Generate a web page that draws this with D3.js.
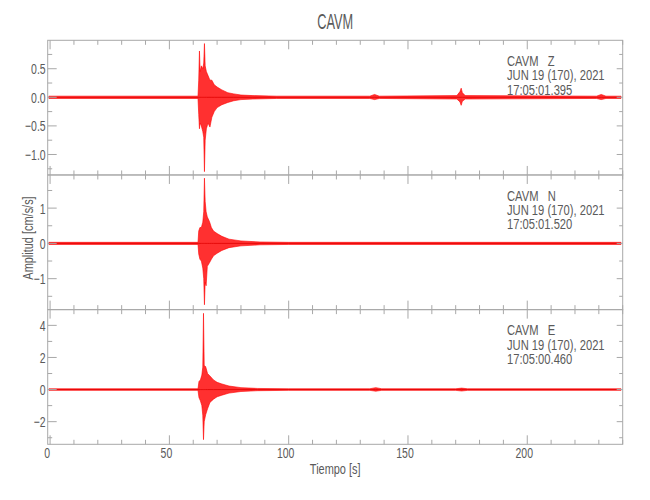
<!DOCTYPE html>
<html><head><meta charset="utf-8">
<script src="https://cdn.jsdelivr.net/npm/d3@7"></script>
<style>
html,body{margin:0;padding:0;background:#fff;}
text{font-family:"Liberation Sans",Arial,sans-serif;fill:#5a5a5a;}
</style></head>
<body><svg id="c" width="650" height="500"></svg>
<script>
// ---- data ----
const title = "CAVM";
const xLabel = "Tiempo [s]";
const yLabel = "Amplitud [cm/s/s]";
const xDomain = [-1, 240];
const xMajorTicks = [0, 50, 100, 150, 200];
const xMinorStep = 10;

const components = ["Z", "N", "E"];
const startTimes = ["17:05:01.395", "17:05:01.520", "17:05:00.460"];
const dateLabel = "JUN 19 (170), 2021";

// envelope of each trace: time [s], upper and lower amplitude [cm/s/s]
const zTime = [-0.5, 62.0, 62.3, 62.6, 62.9, 63.4, 64.0, 64.4, 64.7, 65.0, 65.5, 66.2, 67.0, 67.8, 68.8, 70.0, 72.0, 74.5, 77.0, 80.0, 85.0, 95.0, 134.0, 136.0, 138.0, 170.5, 171.8, 172.3, 172.8, 174.0, 229.0, 231.0, 233.0, 239.3];
const zHigh = [0.02, 0.02, 0.30, 0.81, 0.45, 0.55, 0.50, 0.60, 0.94, 0.55, 0.45, 0.38, 0.30, 0.30, 0.22, 0.18, 0.13, 0.08, 0.06, 0.04, 0.03, 0.02, 0.02, 0.05, 0.02, 0.03, 0.10, 0.16, 0.08, 0.03, 0.02, 0.05, 0.02, 0.02];
const zLow  = [-0.02, -0.02, -0.30, -0.55, -0.45, -0.50, -0.60, -0.70, -1.30, -0.75, -0.55, -0.45, -0.52, -0.35, -0.25, -0.18, -0.13, -0.09, -0.06, -0.04, -0.03, -0.02, -0.02, -0.04, -0.02, -0.03, -0.08, -0.14, -0.07, -0.03, -0.02, -0.04, -0.02, -0.02];

const nTime = [-0.5, 62.0, 62.3, 62.8, 63.4, 64.0, 64.4, 64.7, 65.0, 65.4, 65.9, 66.8, 67.6, 68.5, 70.0, 72.0, 75.0, 80.0, 88.0, 100.0, 239.3];
const nHigh = [0.03, 0.03, 0.35, 0.45, 0.45, 0.60, 0.90, 1.85, 1.19, 0.90, 0.75, 0.62, 0.45, 0.35, 0.28, 0.20, 0.12, 0.07, 0.04, 0.03, 0.03];
const nLow  = [-0.03, -0.03, -0.30, -0.45, -0.50, -0.70, -1.00, -1.74, -1.10, -1.20, -0.65, -0.55, -0.45, -0.35, -0.28, -0.20, -0.12, -0.07, -0.04, -0.03, -0.03];

const eTime = [-0.5, 62.0, 62.4, 63.0, 63.6, 64.0, 64.3, 64.6, 65.2, 66.0, 67.0, 68.5, 70.0, 72.0, 75.0, 80.0, 87.0, 100.0, 134.0, 136.5, 139.0, 170.0, 172.5, 175.0, 239.3];
const eHigh = [0.05, 0.05, 0.50, 0.60, 0.90, 1.40, 4.75, 1.50, 1.43, 1.00, 0.85, 0.60, 0.45, 0.35, 0.22, 0.12, 0.07, 0.05, 0.05, 0.12, 0.05, 0.05, 0.09, 0.05, 0.05];
const eLow  = [-0.05, -0.05, -0.50, -0.70, -1.00, -1.60, -3.12, -2.00, -1.57, -1.20, -0.80, -0.60, -0.45, -0.35, -0.22, -0.12, -0.07, -0.05, -0.05, -0.10, -0.05, -0.05, -0.09, -0.05, -0.05];

const yDomains = [[-1.358, 0.997], [-1.878, 1.94], [-3.41, 4.98]];
const yMajorTicks = [[-1.0, -0.5, 0.0, 0.5], [-1, 0, 1], [-2, 0, 2, 4]];
const yMinorSteps = [0.25, 0.5, 1];
const yTickFormats = [".1f", "d", "d"];

// ---- layout ----
const svg = d3.select("#c");
const plotLeft = 47.7, plotRight = 622.7, plotTop = 40.3, plotBottom = 444.3;
const panelH = (plotBottom - plotTop) / 3;
const frameColor = "#a8a8a8";
const SX = 0.7; // horizontal squeeze imitating the narrow plotting font

function label(parent, px, py, str, size, anchor, sx, rot) {
  return parent.append("text")
    .attr("transform", `translate(${px},${py})${rot ? ` rotate(${rot})` : ""} scale(${sx || SX},1)`)
    .attr("text-anchor", anchor || "start").attr("font-size", size)
    .style("white-space", "pre").text(str);
}

const x = d3.scaleLinear().domain(xDomain).range([plotLeft, plotRight]);
const xMinorTicks = d3.range(0, xDomain[1] + 0.001, xMinorStep);

const traces = [
  {t: zTime, hi: zHigh, lo: zLow},
  {t: nTime, hi: nHigh, lo: nLow},
  {t: eTime, hi: eHigh, lo: eLow}
];

const fmtNum = f => v => d3.format(f)(v).replace("-", "\u2212");

traces.forEach((tr, i) => {
  const y0 = plotTop + i * panelH, y1 = y0 + panelH;
  const y = d3.scaleLinear().domain(yDomains[i]).range([y1, y0]);
  const g = svg.append("g");

  const cid = "clip" + i;
  svg.append("clipPath").attr("id", cid).append("rect")
    .attr("x", plotLeft).attr("y", y0).attr("width", plotRight - plotLeft).attr("height", panelH);

  const pts = tr.t.map((t, k) => ({t, hi: tr.hi[k], lo: tr.lo[k]}));
  const area = d3.area().x(d => x(d.t)).y0(d => y(d.lo)).y1(d => y(d.hi)).curve(d3.curveLinear);
  const gt = g.append("g").attr("clip-path", `url(#${cid})`);
  gt.append("path").datum(pts).attr("d", area)
    .attr("fill", "#ff1a1a").attr("fill-opacity", 0.9)
    .attr("stroke", "#ff0000").attr("stroke-width", 0.6).attr("stroke-linejoin", "miter");
  gt.append("path").datum(pts)
    .attr("d", d3.line().x(d => x(d.t)).y(() => y(0)))
    .attr("stroke", "#e00000").attr("stroke-width", 0.8).attr("fill", "none");

  g.append("rect").attr("x", plotLeft).attr("y", y0).attr("width", plotRight - plotLeft).attr("height", panelH)
    .attr("fill", "none").attr("stroke", frameColor).attr("stroke-width", 1);

  const xt = g.append("g").attr("stroke", frameColor).attr("stroke-width", 1);
  xMinorTicks.forEach(v => {
    const L = xMajorTicks.includes(v) ? 9 : 4.5;
    const px = x(v);
    xt.append("line").attr("x1", px).attr("x2", px).attr("y1", y0).attr("y2", y0 + L);
    xt.append("line").attr("x1", px).attr("x2", px).attr("y1", y1).attr("y2", y1 - L);
  });

  const yMinor = d3.range(Math.ceil(yDomains[i][0] / yMinorSteps[i]) * yMinorSteps[i], yDomains[i][1], yMinorSteps[i]);
  yMinor.forEach(v => {
    const isMajor = yMajorTicks[i].some(m => Math.abs(m - v) < 1e-6);
    const py = y(v);
    xt.append("line").attr("x1", plotLeft).attr("x2", plotLeft + (isMajor ? 9 : 4.5)).attr("y1", py).attr("y2", py);
    xt.append("line").attr("x1", plotRight).attr("x2", plotRight - (isMajor ? 6 : 3.5)).attr("y1", py).attr("y2", py);
  });

  const f = fmtNum(yTickFormats[i]);
  yMajorTicks[i].forEach(v => {
    label(g, plotLeft - 2, y(v) + 5.5, f(v), 15, "end");
  });

  const ax = 507, ay = y0 + 25.7;
  const ann = [`CAVM   ${components[i]}`, dateLabel, startTimes[i]];
  ann.forEach((s, k) => label(g, ax, ay + k * 14.3, s, 14, "start", 0.8));
});

xMajorTicks.forEach(v => label(svg, x(v) - 3, 458, String(v), 15, "middle"));

label(svg, (plotLeft + plotRight) / 2, 29, title, 22, "middle", 0.58);
label(svg, (plotLeft + plotRight) / 2, 474, xLabel, 15, "middle", 0.73);
label(svg, 33, 238, yLabel, 15, "middle", 0.73, -90);
</script></body></html>
